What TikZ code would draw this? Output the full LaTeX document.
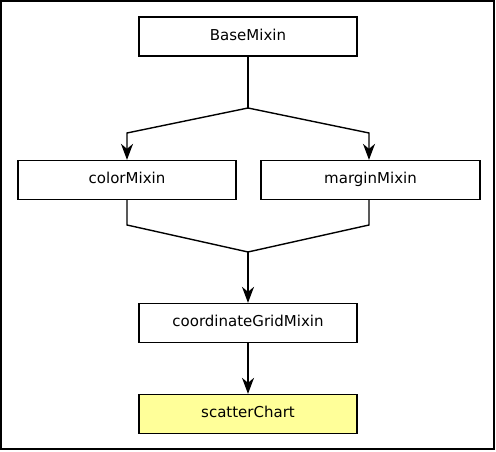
\documentclass[tikz,border=0pt]{standalone}
\usepackage{fontspec}
\setmainfont{DejaVu Sans}
\usetikzlibrary{arrows.meta}

\definecolor{chartColor}{RGB}{255,255,153}
\tikzset{
  mixin/.style={draw,line width=1.3pt,minimum width=218pt,minimum height=39pt,
    inner sep=0pt,text height=11pt,text depth=3pt,font=\fontsize{15}{18}\selectfont},
  chart/.style={mixin,fill=chartColor},
  link/.style={line width=1.4pt},
  inherit/.style={link,-{Stealth[length=16pt,width=12pt,inset=5pt]}}
}

\begin{document}
\begin{tikzpicture}[x=1pt,y=1pt]
\path[use as bounding box] (0,0) rectangle (496,452);
\draw[line width=2.5pt] (1,3) rectangle (494,451);

\node[mixin] (base) at (248,415.5) {BaseMixin};
\node[mixin] (color) at (127,272) {colorMixin};
\node[mixin,minimum width=219pt] (margin) at (370.5,272) {marginMixin};
\node[mixin] (grid) at (248,129) {coordinateGridMixin};
\node[chart] (scatter) at (248,38) {scatterChart};

\coordinate (split) at (248,344);
\coordinate (lsplit) at (127,319);
\coordinate (rsplit) at (369,319);
\coordinate (ljoin) at (127,227);
\coordinate (rjoin) at (369,227);
\coordinate (join) at (248,200);

\draw[link] (base) -- (split);
\draw[inherit] (split) -- (lsplit) -- (lsplit |- color.north);
\draw[inherit] (split) -- (rsplit) -- (rsplit |- margin.north);
\draw[link] (color.south) -- (ljoin) -- (join);
\draw[link] (margin.south -| rjoin) -- (rjoin) -- (join);
\draw[inherit] (join) -- (grid);
\draw[inherit] (grid) -- (scatter);
\end{tikzpicture}
\end{document}
